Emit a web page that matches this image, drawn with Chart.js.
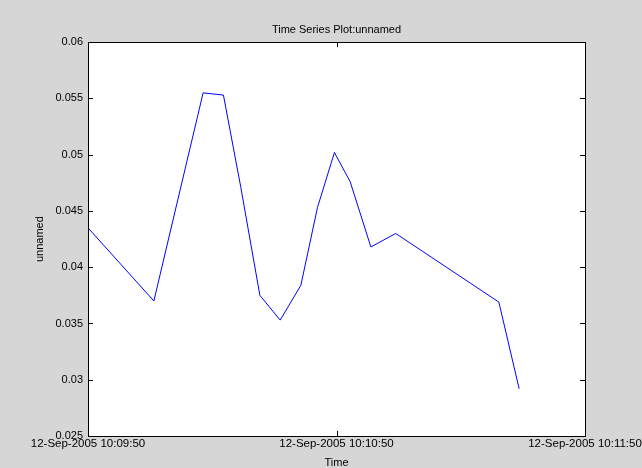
<!DOCTYPE html>
<html>
<head>
<meta charset="utf-8">
<script src="https://cdn.jsdelivr.net/npm/chart.js@4"></script>
<style>
  html, body { margin: 0; padding: 0; background: #d6d6d6; overflow: hidden; width: 642px; height: 468px; }
  #chart-line { position: absolute; left: 0; top: 0; }
</style>
</head>
<body>
<canvas id="chart-line" width="700" height="468"></canvas>
<script>
// seconds after 12-Sep-2005 10:09:50
const times = [0, 15.9, 27.8, 32.7, 36.9, 41.5, 46.4, 51.4, 55.4, 59.5, 63.3, 68.3, 74.3, 99.2, 104.1];
const values = [0.0435, 0.0370, 0.0555, 0.0553, 0.0471, 0.0375, 0.0353, 0.0384, 0.0453, 0.0502, 0.0476, 0.0418, 0.0430, 0.0369, 0.0292];
const timeTicks = [0, 60, 120];
const timeLabels = ["12-Sep-2005 10:09:50", "12-Sep-2005 10:10:50", "12-Sep-2005 10:11:50"];
const yTicks = [0.025, 0.03, 0.035, 0.04, 0.045, 0.05, 0.055, 0.06];

Chart.defaults.color = "#000";
Chart.defaults.font.family = "Liberation Sans";
Chart.defaults.font.size = 11;

// white axes box with inward ticks, matlab style
const axesBox = {
  id: "axesBox",
  beforeDraw(chart) {
    const { ctx, chartArea: a } = chart;
    ctx.save();
    ctx.fillStyle = "#fff";
    ctx.fillRect(a.left, a.top, a.right - a.left, a.bottom - a.top);
    ctx.restore();
  },
  afterDraw(chart) {
    const { ctx, chartArea: a, scales } = chart;
    ctx.save();
    ctx.strokeStyle = "#000";
    ctx.lineWidth = 1;
    ctx.strokeRect(Math.round(a.left) + 0.5, Math.round(a.top) + 0.5, Math.round(a.right - a.left), Math.round(a.bottom - a.top));
    ctx.beginPath();
    yTicks.forEach((v) => {
      const y = Math.round(scales.y.getPixelForValue(v)) + 0.5;
      ctx.moveTo(a.left, y); ctx.lineTo(a.left + 5, y);
      ctx.moveTo(a.right, y); ctx.lineTo(a.right - 5, y);
    });
    timeTicks.forEach((t) => {
      const x = Math.round(scales.x.getPixelForValue(t)) + 0.5;
      ctx.moveTo(x, a.bottom); ctx.lineTo(x, a.bottom - 5);
      ctx.moveTo(x, a.top); ctx.lineTo(x, a.top + 5);
    });
    ctx.stroke();
    ctx.restore();
  },
};

var ctx1 = document.getElementById("chart-line").getContext("2d");
new Chart(ctx1, {
  type: "line",
  data: {
    datasets: [
      {
        label: "unnamed",
        data: times.map((t, i) => ({ x: t, y: values[i] })),
        borderColor: "#0000ff",
        borderWidth: 1,
        pointRadius: 0,
        tension: 0,
        fill: false,
      },
    ],
  },
  options: {
    responsive: false,
    animation: false,
    devicePixelRatio: 1,
    layout: { padding: { left: 0, right: 115, top: 0, bottom: 0 } },
    plugins: {
      legend: { display: false },
      tooltip: { enabled: false },
      title: {
        display: true,
        text: "Time Series Plot:unnamed",
        fullSize: false,
        font: { size: 11, weight: "normal" },
        padding: { top: 23, bottom: 6 },
      },
    },
    scales: {
      x: {
        type: "linear",
        min: 0,
        max: 120,
        afterBuildTicks: (scale) => {
          scale.ticks = timeTicks.map((v) => ({ value: v }));
        },
        afterFit: (scale) => { scale.height = 32; },
        grid: { display: false, drawTicks: false },
        border: { display: false },
        ticks: {
          padding: 1,
          maxRotation: 0,
          autoSkip: false,
          font: { size: 11.5 },
          callback: (v) => timeLabels[timeTicks.indexOf(v)],
        },
        title: { display: true, text: "Time", padding: { top: 0, bottom: -2 } },
      },
      y: {
        min: 0.025,
        max: 0.06,
        afterBuildTicks: (scale) => {
          scale.ticks = yTicks.map((v) => ({ value: v }));
        },
        afterFit: (scale) => { scale.width = 88; },
        grid: { display: false, drawTicks: false },
        border: { display: false },
        ticks: {
          padding: 5,
          callback: (v) => String(Number(v.toFixed(3))),
        },
        title: { display: true, text: "unnamed", padding: { top: 33, bottom: 0 } },
      },
    },
  },
  plugins: [axesBox],
});
</script>
</body>
</html>
